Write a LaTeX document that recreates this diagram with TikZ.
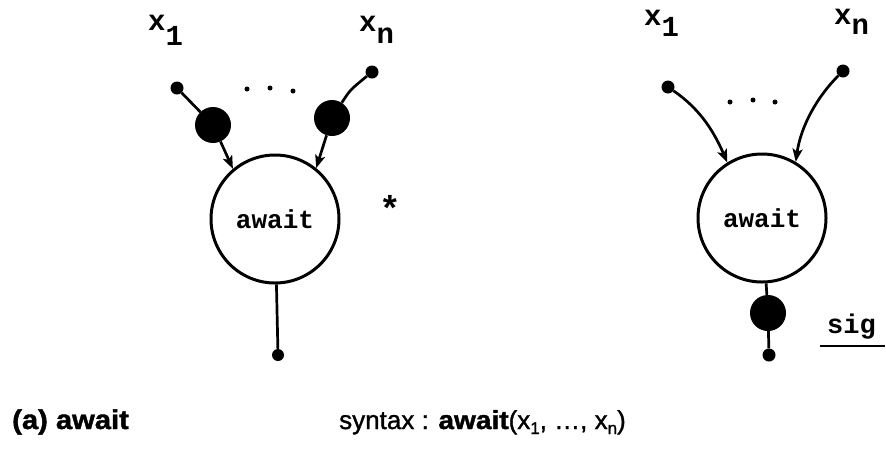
\documentclass[tikz,border=0pt]{standalone}
\usepackage{fontspec}
\usetikzlibrary{arrows.meta}
\newfontfamily\cour{Liberation Mono}
\newfontfamily\capsans[FakeStretch=1.08,BoldFeatures={FakeBold=1.5}]{Liberation Sans}
\newfontfamily\plainsans[FakeBold=1.2]{Liberation Sans}
\begin{document}
\begin{tikzpicture}[x=1pt,y=-1pt,
  procnode/.style={circle, draw, line width=3pt, minimum size=128pt, inner sep=0pt,
    font=\cour\bfseries\fontsize{26}{26}\selectfont},
  smalldot/.style={circle, fill, inner sep=0pt, minimum size=13pt},
  bigdot/.style={circle, fill, inner sep=0pt, minimum size=36pt},
  tinydot/.style={circle, fill, inner sep=0pt, minimum size=5pt},
  wire/.style={line width=2.7pt},
  arrowwire/.style={wire, -{Stealth[length=13pt,width=10pt,inset=3pt]}},
  lab/.style={anchor=base west, inner sep=0pt, font=\cour\bfseries\fontsize{29}{29}\selectfont},
  captext/.style={anchor=base west, inner sep=0pt},
]
\useasboundingbox (0,0) rectangle (886,451);

% ---------- left diagram ----------
\node[procnode] (c1) at (275,219) {await};
\node[smalldot] (s1) at (177,88) {};
\node[smalldot] (s2) at (372,72) {};
\node[bigdot] (b1) at (213,125) {};
\node[bigdot] (b2) at (332,118) {};
\node[smalldot, minimum size=12pt] (e1) at (278,355) {};
\draw[wire] (s1) -- (b1);
\draw[wire] (s2) .. controls (350,90) .. (b2);
\draw[arrowwire] (b1) -- (c1.130);
\draw[arrowwire] (b2) -- (c1.51);
\draw[wire] (c1) -- (e1);
\node[tinydot] (d1) at (247,89) {};
\node[tinydot] (d2) at (270,88) {};
\node[tinydot] (d3) at (293,91) {};
\node[lab] (l1) at (148,30) {x\raisebox{-15pt}{1}};
\node[lab] (l2) at (359,31) {x\raisebox{-12pt}{n}};
\node[lab, anchor=center, font=\cour\bfseries\fontsize{36}{36}\selectfont] (star) at (390,208) {*};

% ---------- right diagram ----------
\node[procnode] (c2) at (762,218) {await};
\node[smalldot] (s3) at (668,87) {};
\node[smalldot] (s4) at (843,71) {};
\draw[arrowwire] (s3) .. controls (697,107) and (712,127) .. (c2.122);
\draw[arrowwire] (s4) .. controls (818,96) and (801,125) .. (c2.59);
\node[bigdot] (b3) at (768,313) {};
\node[smalldot] (e2) at (769,355) {};
\draw[wire] (c2) -- (b3);
\draw[wire] (b3) -- (e2);
\node[tinydot] (d4) at (730,102) {};
\node[tinydot] (d5) at (753,100) {};
\node[tinydot] (d6) at (775,102) {};
\node[lab] (l3) at (644,25) {x\raisebox{-11pt}{1}};
\node[lab] (l4) at (834,24) {x\raisebox{-10pt}{n}};
\node[lab, font=\cour\bfseries\fontsize{27}{27}\selectfont] (sig) at (827,333) {sig};
\coordinate (u1) at (820,346);
\coordinate (u2) at (885,346);
\draw[wire] (u1) -- (u2);

% ---------- captions ----------
\node[captext, font=\capsans\bfseries\fontsize{27}{27}\selectfont] (cap) at (12,429) {(a) await};
\node[captext, font=\plainsans\fontsize{26}{26}\selectfont] (syn) at (339,429)
  {syntax : {\capsans\bfseries await}(x\raisebox{-5pt}{\fontsize{17}{17}\selectfont 1}, \ldots, x\raisebox{-5pt}{\fontsize{17}{17}\selectfont n})};
\end{tikzpicture}
\end{document}
